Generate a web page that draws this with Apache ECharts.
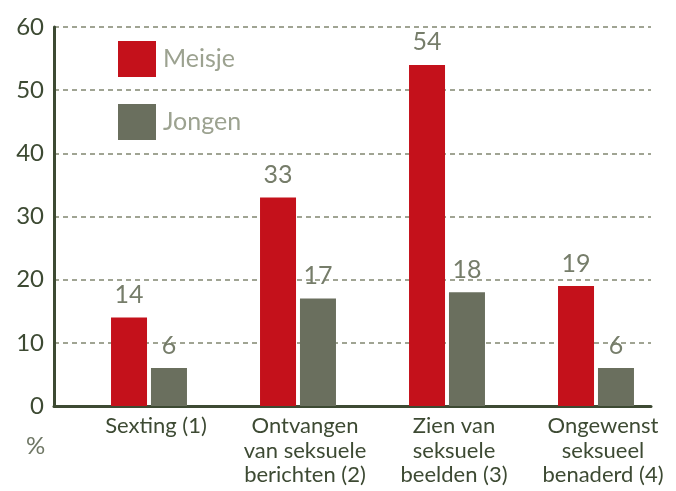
<!DOCTYPE html>
<html><head><meta charset="utf-8">
<script src="https://cdn.jsdelivr.net/npm/echarts@6/dist/echarts.min.js"></script>
<style>html,body{margin:0;padding:0;background:#fff}#c{width:676px;height:491px}</style>
</head><body><div id="c"></div>
<script>
var categories = ['Sexting (1)', 'Ontvangen\nvan seksuele\nberichten (2)', 'Zien van\nseksuele\nbeelden (3)', 'Ongewenst\nseksueel\nbenaderd (4)'];
var meisje = [14, 33, 54, 19];
var jongen = [6, 17, 18, 6];
var seriesNames = ['Meisje', 'Jongen'];
var yTicks = {min: 0, max: 60, interval: 10};
var unitLabel = '%';

var FONT = 'Lato';
var RED = '#c4111b', GREY = '#6a6f5e', DARK = '#3d4a33', DASH = '#a0a493';
var chart = echarts.init(document.getElementById('c'), null, {renderer: 'canvas'});
chart.setOption({
  animation: false,
  textStyle: {fontFamily: FONT},
  grid: [
    {left: 54, right: 25, top: 27, bottom: 85},
    {left: 74.5, right: 5.5, top: 27, bottom: 85}
  ],
  legend: {
    orient: 'vertical', left: 118, top: 41, padding: 0, itemWidth: 38, itemHeight: 36, itemGap: 27,
    icon: 'rect', data: seriesNames,
    textStyle: {fontFamily: FONT, fontSize: 25, color: '#9ca290', padding: [0,0,0,2]}
  },
  xAxis: [
    {gridIndex: 0, type: 'category', data: [''], axisLine: {show: true, lineStyle: {color: DARK, width: 3}},
     axisTick: {show: false}, axisLabel: {show: false}, splitLine: {show: false}},
    {gridIndex: 1, type: 'category', data: categories, axisLine: {show: false}, axisTick: {show: false},
     axisLabel: {fontFamily: FONT, fontSize: 22, lineHeight: 24.5, color: DARK, margin: 8, padding: [0,0,0,14], interval: 0}}
  ],
  yAxis: [
    {gridIndex: 0, type: 'value', min: yTicks.min, max: yTicks.max, interval: yTicks.interval,
     axisLine: {show: true, lineStyle: {color: DARK, width: 3}}, axisTick: {show: false},
     axisLabel: {fontFamily: FONT, fontSize: 24, color: DARK, margin: 10},
     splitLine: {show: true, lineStyle: {color: DASH, width: 2, type: [5, 4]}}},
    {gridIndex: 1, type: 'value', min: yTicks.min, max: yTicks.max, interval: yTicks.interval, show: false, splitLine: {show: false}}
  ],
  series: [
    {name: seriesNames[0], type: 'bar', xAxisIndex: 1, yAxisIndex: 1, data: meisje, barWidth: 36, barGap: '11%',
     itemStyle: {color: RED},
     label: {show: true, position: 'top', distance: 10, fontFamily: FONT, fontSize: 25, color: '#767d6a'}},
    {name: seriesNames[1], type: 'bar', xAxisIndex: 1, yAxisIndex: 1, data: jongen, barWidth: 36,
     itemStyle: {color: GREY},
     label: {show: true, position: 'top', distance: 10, fontFamily: FONT, fontSize: 25, color: '#767d6a'}}
  ],
  graphic: [
    {type: 'text', left: 26, top: 434, style: {text: unitLabel, font: '24px ' + FONT, fill: '#6f7765'}}
  ]
});
</script></body></html>
